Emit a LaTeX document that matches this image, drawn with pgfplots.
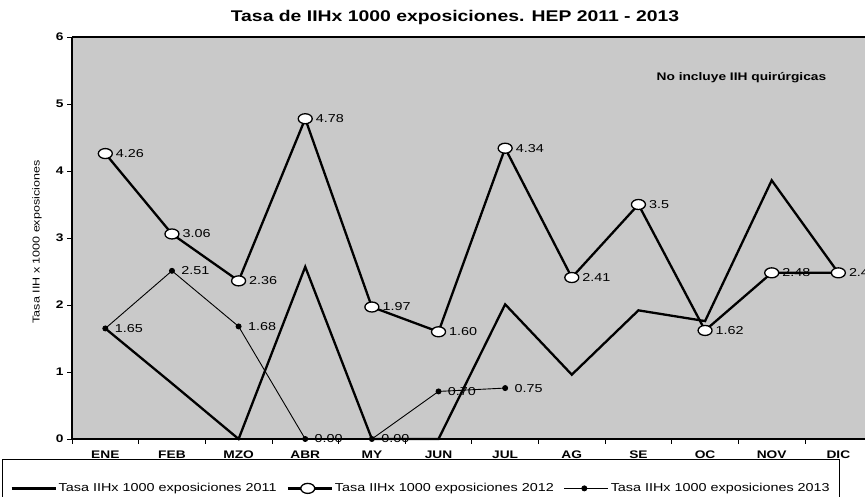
\documentclass[border=0pt]{standalone}
\usepackage{fontspec}
\setmainfont{Liberation Sans}[FakeStretch=1.25]
\usepackage{pgfplots}
\pgfplotsset{compat=1.18}

\begin{document}
\begin{tikzpicture}
\useasboundingbox (0,0) rectangle (865pt,497pt);
\begin{axis}[
    at={(72pt,58pt)}, anchor=south west,
    scale only axis, width=793pt, height=402pt,
    xmin=-0.5, xmax=11.4, ymin=0, ymax=6,
    axis lines=left,
    axis line style={-, line width=1.6pt},
    axis background/.style={fill=gray!42},
    tick align=outside,
    xtick={0,...,11},
    xticklabels={ENE,FEB,MZO,ABR,MY,JUN,JUL,AG,SE,OC,NOV,DIC},
    major x tick style={draw=none},
    minor xtick={-0.5,0.5,...,11.5},
    minor tick length=5pt,
    major tick length=5pt,
    ytick={0,...,6},
    extra y ticks={6}, extra y tick labels={},
    extra y tick style={grid=major, major grid style={black, line width=1.6pt}},
    tick style={black, line width=0.8pt},
    /pgf/number format/assume math mode=true,
    ticklabel style={font=\bfseries\fontsize{11}{13}\selectfont},
    xticklabel style={yshift=-3pt},
    ylabel={Tasa IIH x 1000 exposiciones},
    ylabel style={at={(-0.044,0.49)}, anchor=center, font=\fontsize{10}{12}\selectfont},
    legend columns=3,
    legend style={at={(-0.0883,-0.0498)}, anchor=north west, draw=black, line width=0.9pt,
        font=\fontsize{11.5}{13}\selectfont, inner xsep=8pt, inner ysep=22pt,
        /tikz/every even column/.append style={column sep=8pt}},
    legend image code/.code={\draw[mark repeat=2, mark phase=2, #1] plot coordinates {(0pt,0pt) (20pt,0pt) (44pt,0pt)};},
    clip=false,
]
% 2011
\addplot[black, line width=2.3pt, mark=none] coordinates {
    (0,1.65) (1,0.83) (2,0) (3,2.57) (4,0) (5,0) (6,2.01) (7,0.96) (8,1.92) (9,1.76) (10,3.86) (11,2.48)
};
% 2012
\addplot[black, line width=2.3pt, mark=*, mark size=5pt,
    mark options={xscale=1.4, fill=white, line width=1.3pt},
    nodes near coords, point meta=explicit symbolic,
    every node near coord/.append style={anchor=west, xshift=9pt, inner sep=1pt, font=\fontsize{11.5}{13}\selectfont}]
    coordinates {
    (0,4.26)[4.26] (1,3.06)[3.06] (2,2.36)[2.36] (3,4.78)[4.78] (4,1.97)[1.97] (5,1.60)[1.60]
    (6,4.34)[4.34] (7,2.41)[2.41] (8,3.5)[3.5] (9,1.62)[1.62] (10,2.48)[2.48] (11,2.48)[2.48]
};
% 2013
\addplot[black, line width=0.9pt, mark=*, mark size=2.5pt,
    nodes near coords, point meta=explicit symbolic,
    every node near coord/.append style={anchor=west, xshift=8pt, inner sep=1pt, font=\fontsize{11.5}{13}\selectfont}]
    coordinates {
    (0,1.65)[1.65] (1,2.51)[2.51] (2,1.68)[1.68] (3,0)[0.00] (4,0)[0.00] (5,0.71)[0.70] (6,0.76)[0.75]
};
\node[anchor=west, font=\bfseries\fontsize{11}{13}\selectfont] at (axis cs:8.22,5.39) {No incluye IIH quirúrgicas};
\legend{Tasa IIHx 1000 exposiciones 2011, Tasa IIHx 1000 exposiciones 2012, Tasa IIHx 1000 exposiciones 2013}
\end{axis}
\node[font=\bfseries\fontsize{15.5}{18}\selectfont] at (455pt,479pt) {Tasa de IIHx 1000 exposiciones. HEP 2011 - 2013};
\end{tikzpicture}
\end{document}
